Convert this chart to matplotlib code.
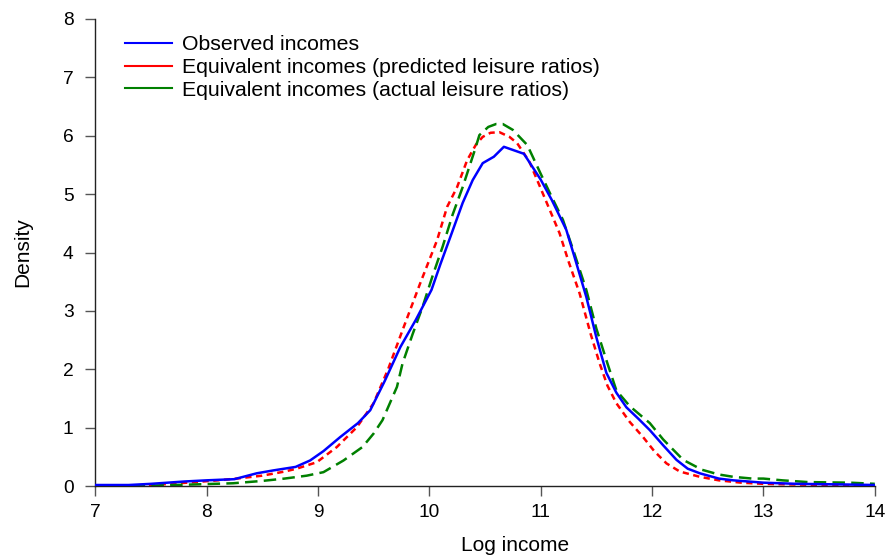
import matplotlib
matplotlib.use("Agg")
import matplotlib.pyplot as plt
from matplotlib.lines import Line2D

plt.rcParams['font.family'] = ['Liberation Sans', 'DejaVu Sans']

obs_x = [7.0, 7.3, 7.5, 7.8, 8.0, 8.25, 8.45, 8.6, 8.8, 8.93, 9.05, 9.2, 9.36, 9.47, 9.6, 9.74, 9.88,
         10.02, 10.1, 10.19, 10.3, 10.39, 10.48, 10.58, 10.67, 10.85, 11.0, 11.1, 11.23, 11.3, 11.41,
         11.5, 11.59, 11.68, 11.77, 11.88, 11.98, 12.1, 12.22, 12.32, 12.43, 12.6, 12.73, 13.0, 13.3,
         13.7, 14.0]
obs_y = [0.02, 0.02, 0.04, 0.08, 0.1, 0.12, 0.22, 0.27, 0.33, 0.44, 0.6, 0.84, 1.08, 1.3, 1.8, 2.38, 2.85,
         3.36, 3.8, 4.27, 4.85, 5.24, 5.53, 5.64, 5.81, 5.69, 5.25, 4.9, 4.39, 3.95, 3.24,
         2.55, 1.94, 1.6, 1.35, 1.15, 0.96, 0.7, 0.45, 0.3, 0.22, 0.13, 0.1, 0.06, 0.04,
         0.03, 0.02]

pred_x = [7.0, 7.3, 7.6, 7.9, 8.1, 8.27, 8.5, 8.7, 8.81, 8.99, 9.17, 9.35, 9.5, 9.63, 9.76, 9.92,
          10.07, 10.16, 10.25, 10.34, 10.42, 10.48, 10.55, 10.63, 10.72, 10.79, 10.9, 11.0, 11.17,
          11.25, 11.35, 11.45, 11.53, 11.6, 11.68, 11.8, 11.92, 12.02, 12.13, 12.25, 12.43, 12.6,
          12.8, 13.0, 13.5, 14.0]
pred_y = [0.0, 0.01, 0.03, 0.07, 0.1, 0.13, 0.18, 0.25, 0.3, 0.41, 0.67, 1.01, 1.42, 2.0, 2.67, 3.48,
          4.21, 4.78, 5.12, 5.58, 5.85, 5.98, 6.05, 6.06, 5.98, 5.87, 5.55, 5.1, 4.33,
          3.85, 3.3, 2.6, 2.1, 1.72, 1.42, 1.1, 0.84, 0.6, 0.39, 0.25, 0.16, 0.1,
          0.06, 0.04, 0.02, 0.01]

act_x = [7.0, 7.5, 7.9, 8.24, 8.5, 8.7, 8.9, 9.05, 9.23, 9.4, 9.5, 9.58, 9.71, 9.76, 9.85, 9.94,
         10.03, 10.12, 10.21, 10.3, 10.41, 10.45, 10.53, 10.6, 10.66, 10.75, 10.88, 11.0, 11.1, 11.2,
         11.3, 11.41, 11.5, 11.6, 11.68, 11.8, 11.98, 12.1, 12.28, 12.45, 12.6, 12.73, 12.9, 13.0,
         13.17, 13.4, 13.78, 14.0]
act_y = [0.0, 0.01, 0.03, 0.05, 0.09, 0.13, 0.18, 0.24, 0.44, 0.67, 0.9, 1.13, 1.7, 2.1, 2.6, 3.07,
         3.6, 4.1, 4.65, 5.12, 5.76, 6.01, 6.15, 6.2, 6.2, 6.1, 5.84, 5.35, 4.95, 4.56,
         4.0, 3.36, 2.7, 2.1, 1.64, 1.37, 1.08, 0.8, 0.45, 0.28, 0.2, 0.16, 0.13, 0.13,
         0.1, 0.07, 0.06, 0.04]

labels = ["Observed incomes",
          "Equivalent incomes (predicted leisure ratios)",
          "Equivalent incomes (actual leisure ratios)"]

fig = plt.figure(figsize=(8.89, 5.55), dpi=100)
ax = fig.add_axes([0.107, 0.124, 0.877, 0.842])

ax.plot(obs_x, obs_y, color='#0000ff', lw=1.8, zorder=3)
ax.plot(pred_x, pred_y, color='#ff0000', lw=1.8, dashes=(2.5, 1.8), zorder=2)
ax.plot(act_x, act_y, color='#008000', lw=1.8, dashes=(5, 2.5), zorder=2)

handles = [Line2D([], [], color='#0000ff', lw=1.5),
           Line2D([], [], color='#ff0000', lw=1.5),
           Line2D([], [], color='#008000', lw=1.5)]
ax.legend(handles, labels, loc='upper left', bbox_to_anchor=(0.038, 0.9647), frameon=False,
          fontsize=15.3, handlelength=2.22, handletextpad=0.47, labelspacing=0.17,
          borderaxespad=0, borderpad=0)

ax.set_xlim(7, 14)
ax.set_ylim(0, 8)
ax.set_xticks(range(7, 15))
ax.set_yticks(range(0, 9))
ax.spines['top'].set_visible(False)
ax.spines['right'].set_visible(False)
for s in ['left', 'bottom']:
    ax.spines[s].set_linewidth(1.0)
    ax.spines[s].set_color('#222222')
ax.tick_params(axis='both', direction='out', length=7, width=1, labelsize=13.8, color='#555555')
ax.tick_params(axis='y', pad=8.5)
ax.tick_params(axis='x', pad=5.5)
ax.set_xlabel("Log income", fontsize=15, labelpad=11, x=0.538)
ax.set_ylabel("Density", fontsize=15, labelpad=22)

fig.savefig("out.png", dpi=100)
